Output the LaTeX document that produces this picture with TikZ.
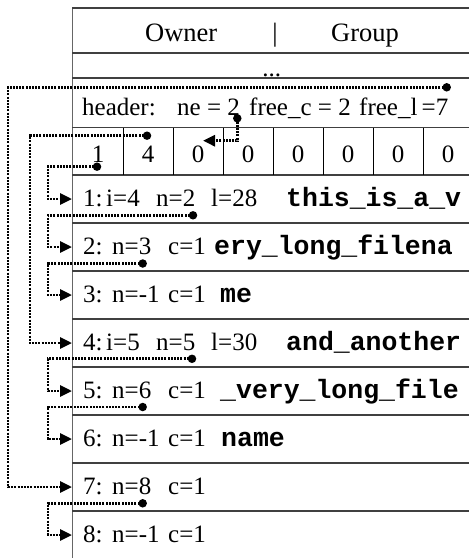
\documentclass[tikz,border=0pt]{standalone}
\usepackage{fontspec}
\setmainfont{Liberation Serif}
\setmonofont{Liberation Mono}
\usetikzlibrary{arrows.meta}
\begin{document}
\begin{tikzpicture}[
  x=1pt, y=-1pt,
  rule/.style={line width=1.4pt, draw=black!75},
  divider/.style={line width=0.9pt, draw=black},
  txt/.style={inner sep=0pt, anchor=base west, font=\fontsize{25}{30}\selectfont},
  ctxt/.style={inner sep=0pt, anchor=base, font=\fontsize{25}{30}\selectfont},
  big/.style={font=\fontsize{26.5}{30}\selectfont},
  code/.style={inner sep=0pt, anchor=base west, font=\fontsize{26.5}{30}\selectfont\ttfamily\bfseries},
  link/.style={line width=2.8pt, dash pattern=on 2pt off 1.2pt,
               -{Triangle[length=12pt,width=11pt]}},
  dot/.style={circle, fill=black, inner sep=0pt, minimum size=8.5pt},
]
\useasboundingbox (0,0) rectangle (469,558);

% ---- table frame ----
\draw[rule, draw=black!60] (72.7,8) -- (72.7,558);
\foreach \y in {8,53,78,127.5,175,223,271,319,367,415,463,511}
  \draw[rule] (72,\y) -- (469,\y);
\foreach \x in {123,173,223,273,323,373,423}
  \draw[divider] (\x,127.5) -- (\x,175);

% ---- owner / group ----
\node[txt, big] (owner) at (145,41.7) {Owner};
\node[ctxt, big] (bar) at (275,41.7) {|};
\node[txt, big] (group) at (331,41.7) {Group};
\node[ctxt] (etc) at (271.7,76.5) {...};

% ---- header ----
\node[txt] (hdr) at (82,115) {header:};
\node[txt] (ne) at (177,115) {ne = 2};
\node[txt] (fc) at (249,115) {free\_c = 2};
\node[txt] (fl) at (359,115) {free\_l\,=7};

% ---- cells ----
\foreach \v [count=\i] in {1,4,0,0,0,0,0,0}
  \node[ctxt] (cell\i) at (48+50*\i,162.7) {\v};

% ---- entries ----
\node[txt] (r1a) at (83,206.5) {1:};
\node[txt] (r1b) at (106,206.5) {i=4};
\node[txt] (r1c) at (156,206.5) {n=2};
\node[txt] (r1d) at (211,206.5) {l=28};
\node[code] (r1e) at (286,206.5) {this\_is\_a\_v};

\node[txt] (r2a) at (83,254.5) {2:};
\node[txt] (r2b) at (112,254.5) {n=3};
\node[txt] (r2c) at (168,254.5) {c=1};
\node[code] (r2e) at (214,254.5) {ery\_long\_filena};

\node[txt] (r3a) at (83,302.5) {3:};
\node[txt] (r3b) at (112,302.5) {n=-1};
\node[txt] (r3c) at (168,302.5) {c=1};
\node[code] (r3e) at (220,302.5) {me};

\node[txt] (r4a) at (83,350.5) {4:};
\node[txt] (r4b) at (106,350.5) {i=5};
\node[txt] (r4c) at (156,350.5) {n=5};
\node[txt] (r4d) at (211,350.5) {l=30};
\node[code] (r4e) at (286,350.5) {and\_another};

\node[txt] (r5a) at (83,398.5) {5:};
\node[txt] (r5b) at (112,398.5) {n=6};
\node[txt] (r5c) at (168,398.5) {c=1};
\node[code] (r5e) at (220,398.5) {\_very\_long\_file};

\node[txt] (r6a) at (83,446.5) {6:};
\node[txt] (r6b) at (112,446.5) {n=-1};
\node[txt] (r6c) at (168,446.5) {c=1};
\node[code] (r6e) at (221,446.5) {name};

\node[txt] (r7a) at (83,494.5) {7:};
\node[txt] (r7b) at (112,494.5) {n=8};
\node[txt] (r7c) at (168,494.5) {c=1};

\node[txt] (r8a) at (83,542.5) {8:};
\node[txt] (r8b) at (112,542.5) {n=-1};
\node[txt] (r8c) at (168,542.5) {c=1};

% ---- entry targets on the left edge ----
\foreach \k in {1,...,8}
  \coordinate (in\k) at (72,151+48*\k);
\coordinate (cin) at (203,140.7);

% ---- routing columns ----
\coordinate (xa) at (48,0);
\coordinate (xb) at (30,0);
\coordinate (xc) at (8,0);

% ---- pointer dots ----
\node[dot] (dfl) at (446.7,87.3) {};
\node[dot] (dne) at (237.3,118.3) {};
\node[dot] (dc1) at (97,166.7) {};
\node[dot] (dc4) at (147,135.7) {};
\node[dot] (d1) at (193,215.3) {};
\node[dot] (d2) at (142.7,263.5) {};
\node[dot] (d4) at (192,358.8) {};
\node[dot] (d5) at (142.7,407) {};
\node[dot] (d7) at (142.7,503.3) {};

% ---- pointers ----
\draw[link] (dfl.center) -- (dfl.center -| xc) -- (xc |- in7) -- (in7);
\draw[link] (dne.center) -- (dne.center |- cin) -- (cin);
\draw[link] (dc1.center) -- (dc1.center -| xa) -- (xa |- in1) -- (in1);
\draw[link] (dc4.center) -- (dc4.center -| xb) -- (xb |- in4) -- (in4);
\draw[link] (d1.center) -- (d1.center -| xa) -- (xa |- in2) -- (in2);
\draw[link] (d2.center) -- (d2.center -| xa) -- (xa |- in3) -- (in3);
\draw[link] (d4.center) -- (d4.center -| xa) -- (xa |- in5) -- (in5);
\draw[link] (d5.center) -- (d5.center -| xa) -- (xa |- in6) -- (in6);
\draw[link] (d7.center) -- (d7.center -| xa) -- (xa |- in8) -- (in8);
\end{tikzpicture}
\end{document}
